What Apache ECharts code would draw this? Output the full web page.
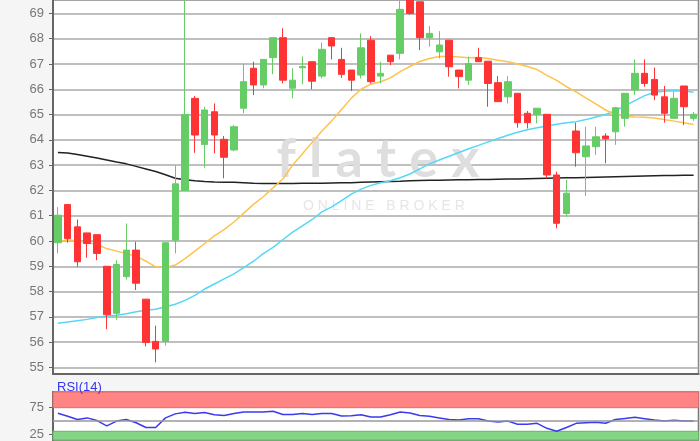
<!DOCTYPE html>
<html><head><meta charset="utf-8">
<script src="https://cdn.jsdelivr.net/npm/echarts@6/dist/echarts.min.js"></script>
<style>html,body{margin:0;padding:0;background:#f5f5f5}#c{width:700px;height:441px}</style>
</head><body><div id="c"></div>
<script>
// OHLC per trading day (66 candles)
const opens  = [59.93,61.44,60.56,60.32,60.25,59.00,57.14,58.59,59.64,57.70,56.03,56.03,60.03,62.00,65.64,63.82,65.11,64.02,63.60,65.25,66.83,66.17,67.25,68.04,66.04,66.85,67.09,66.52,68.04,67.18,66.76,66.56,67.94,66.52,67.35,67.42,69.90,69.46,68.04,67.48,67.94,66.76,66.36,67.25,67.11,66.26,65.70,65.84,65.05,65.01,65.01,62.61,61.09,64.35,63.33,63.73,64.15,64.32,64.85,65.97,66.63,66.39,65.70,64.85,66.13,64.85];
const closes = [61.02,60.10,59.18,59.90,59.51,57.08,59.07,59.64,58.33,55.99,55.73,59.93,62.26,65.00,64.19,65.18,64.19,63.31,64.52,66.30,66.17,67.18,68.04,66.36,66.36,66.90,66.32,67.58,67.71,66.59,66.36,67.64,66.30,66.63,67.09,69.16,69.00,68.04,68.21,67.75,66.89,66.50,67.02,67.09,66.23,65.51,66.30,64.68,64.68,65.25,62.61,60.70,61.89,63.49,63.76,64.12,64.04,65.27,65.84,66.63,66.23,65.77,65.05,65.64,65.31,65.01];
const lows   = [59.51,59.93,58.98,59.34,59.24,56.51,56.88,58.48,58.06,55.83,55.20,55.86,59.51,62.00,63.49,62.90,63.47,62.48,63.55,65.05,65.77,66.04,66.60,66.23,65.64,66.20,66.00,66.43,67.18,66.45,65.93,66.43,66.23,66.23,66.96,67.18,68.95,67.55,67.68,67.22,66.50,66.04,66.17,67.09,65.31,65.51,65.44,64.48,64.45,64.65,62.48,60.50,60.96,62.94,61.78,63.40,63.07,63.80,64.52,65.77,66.10,65.57,64.68,64.85,64.58,64.75];
const highs  = [61.34,61.44,60.85,60.32,60.25,59.00,59.24,60.69,59.97,57.70,56.65,59.93,63.00,70.50,65.73,65.31,65.44,64.15,64.58,67.00,67.09,67.18,68.04,68.41,66.83,67.30,67.09,67.85,68.04,67.64,66.76,68.21,68.10,67.09,67.35,69.80,70.00,69.46,68.50,68.30,67.94,66.76,67.29,67.64,67.11,66.52,66.52,65.84,65.14,65.25,65.01,62.74,62.41,64.68,64.52,64.52,64.26,65.30,65.84,67.18,67.18,66.86,66.13,65.90,66.13,65.10];
// moving averages
const maShort = [59.97,60.05,60.00,59.95,59.85,59.70,59.60,59.50,59.40,59.20,58.98,58.95,59.05,59.30,59.60,59.90,60.20,60.45,60.75,61.10,61.45,61.75,62.10,62.45,63.00,63.45,63.90,64.35,64.75,65.20,65.65,66.00,66.20,66.30,66.45,66.70,66.90,67.10,67.22,67.30,67.31,67.28,67.25,67.26,67.22,67.15,67.09,67.00,66.90,66.78,66.55,66.35,66.10,65.90,65.65,65.42,65.18,65.00,64.92,64.90,64.89,64.86,64.80,64.74,64.68,64.61];
const maMid   = [56.75,56.80,56.85,56.90,56.97,57.02,57.06,57.12,57.20,57.26,57.30,57.40,57.50,57.65,57.85,58.10,58.30,58.50,58.70,58.95,59.20,59.50,59.75,60.05,60.35,60.60,60.85,61.15,61.35,61.60,61.85,62.05,62.20,62.30,62.38,62.50,62.65,62.85,63.05,63.20,63.35,63.50,63.65,63.78,63.92,64.05,64.18,64.30,64.40,64.48,64.55,64.62,64.68,64.72,64.80,64.90,65.00,65.15,65.35,65.55,65.75,65.88,65.92,65.94,65.93,65.88];
const maLong  = [63.50,63.48,63.42,63.35,63.28,63.20,63.12,63.05,62.95,62.85,62.75,62.62,62.48,62.42,62.38,62.35,62.33,62.32,62.32,62.30,62.28,62.27,62.27,62.27,62.27,62.28,62.28,62.28,62.29,62.30,62.30,62.32,62.33,62.34,62.35,62.36,62.38,62.39,62.40,62.40,62.41,62.42,62.42,62.43,62.43,62.44,62.45,62.45,62.46,62.47,62.48,62.49,62.50,62.50,62.51,62.52,62.53,62.54,62.55,62.56,62.57,62.58,62.59,62.59,62.60,62.60];
const rsi     = [64.5,59,53,56,51,41,50,53,47,38,38,56,63.5,66.4,64,66,62,60.5,64,67,67,67,68.5,62.2,62.2,64,62.2,64,64,59.5,60,62,57.5,57.5,62,67,65,60.4,59,56,53,52,54.4,54.4,50,48.2,50,44,44,45.8,36.5,31,38,45.8,47,48,46,53,55,57,54.5,52,50,51.8,50,50];
const yTicks = [55,56,57,58,59,60,61,62,63,64,65,66,67,68,69];
const rsiTicks = [25,75];
const days = opens.map((_, i) => 'T' + (i + 1));

const candles = opens.map((o, i) => [o, closes[i], lows[i], highs[i]]);
const labelFont = {color:'#777', fontSize:13, fontFamily:'Liberation Sans, Arial'};

const chart = echarts.init(document.getElementById('c'), null, {renderer:'canvas'});
chart.setOption({
  backgroundColor:'#f5f5f5',
  animation:false,
  title:{text:'RSI(14)', left:52, top:376, textStyle:{fontSize:13, color:'#3535f0', fontWeight:'normal', fontFamily:'Liberation Sans, Arial'}},
  graphic:[
    {type:'text', x:378, y:160, silent:true, z:1,
     style:{text:'f l a t e x', fill:'#dedede', fontSize:54, fontFamily:'Lato', fontWeight:'bold', align:'center', verticalAlign:'middle'}},
    {type:'text', x:384, y:206, silent:true, z:1,
     style:{text:'O N L I N E   B R O K E R', fill:'#e6e6e6', fontSize:14, fontFamily:'Liberation Sans, Arial', align:'center', verticalAlign:'middle'}}
  ],
  grid:[
    {left:53, right:1.5, top:0, height:374, show:true, backgroundColor:'#fff', borderColor:'#888', borderWidth:1.5},
    {left:53, right:1.5, top:392, height:49, show:true, backgroundColor:'#fff', borderColor:'#777', borderWidth:1.5}
  ],
  xAxis:[
    {type:'category', gridIndex:0, data:days, boundaryGap:true, axisLabel:{show:false}, axisTick:{show:false},
     axisLine:{lineStyle:{color:'#666', width:2}}, splitLine:{show:false}},
    {type:'category', gridIndex:1, data:days, boundaryGap:true, axisLabel:{show:false}, axisTick:{show:false},
     axisLine:{show:false}, splitLine:{show:false}}
  ],
  yAxis:[
    {type:'value', gridIndex:0, min:54.74, max:69.53, scale:true,
     axisLine:{show:true, lineStyle:{color:'#666', width:2}},
     axisTick:{show:true, length:4, customValues:yTicks, lineStyle:{color:'#666'}},
     axisLabel:Object.assign({customValues:yTicks, margin:9}, labelFont),
     splitLine:{show:true, lineStyle:{color:'#aaa', width:1.5}}},
    {type:'value', gridIndex:1, min:14.6, max:104.3, scale:true,
     axisLine:{show:true, lineStyle:{color:'#666', width:2}},
     axisTick:{show:true, length:4, customValues:rsiTicks, lineStyle:{color:'#666'}},
     axisLabel:Object.assign({customValues:rsiTicks, margin:9}, labelFont),
     splitLine:{show:false}}
  ],
  series:[
    {type:'line', xAxisIndex:0, yAxisIndex:0, data:maLong, showSymbol:false, lineStyle:{color:'#222', width:1.5}, z:2},
    {type:'line', xAxisIndex:0, yAxisIndex:0, data:maMid, showSymbol:false, lineStyle:{color:'#55d8f5', width:1.5}, z:2},
    {type:'line', xAxisIndex:0, yAxisIndex:0, data:maShort, showSymbol:false, lineStyle:{color:'#ffc24d', width:1.5}, z:2},
    {type:'candlestick', xAxisIndex:0, yAxisIndex:0, data:candles, barWidth:7, clip:true, z:3,
     itemStyle:{color:'#66cc66', color0:'#ff3333', borderColor:'#66cc66', borderColor0:'#ff3333', borderWidth:1}},
    {type:'line', xAxisIndex:1, yAxisIndex:1, data:rsi, showSymbol:false, lineStyle:{color:'#3a3af0', width:1.5}, z:3,
     markArea:{silent:true, data:[
       [{yAxis:75, itemStyle:{color:'#ff8585', borderColor:'#e06a6a', borderWidth:1}}, {yAxis:104.3}],
       [{yAxis:14.6, itemStyle:{color:'#86d486', borderColor:'#5cb85c', borderWidth:1}}, {yAxis:31}]
     ]},
     markLine:{silent:true, symbol:'none', label:{show:false}, lineStyle:{color:'#999', type:'solid', width:1.5}, data:[{yAxis:50}]}}
  ]
});
</script></body></html>
